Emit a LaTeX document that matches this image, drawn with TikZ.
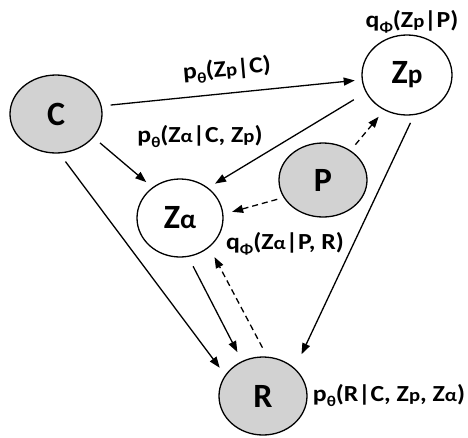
\documentclass[tikz,border=0pt]{standalone}
\usepackage{fontspec}
\setmainfont{Carlito}
\usetikzlibrary{shapes.geometric,arrows.meta}
\newcommand\sml[1]{\scalebox{0.8}{#1}}
\newcommand\sbs[1]{\raisebox{-0.45ex}{\scalebox{0.65}{#1}}}
\newcommand\wide[1]{\scalebox{1.12}[1]{#1}}
\begin{document}
\begin{tikzpicture}[x=1pt,y=-1pt,
  rv/.style={ellipse, draw, line width=1.3pt, inner sep=0, font=\bfseries\fontsize{34}{34}\selectfont},
  obs/.style={rv, fill=gray!35},
  lbl/.style={inner sep=0, font=\bfseries\fontsize{23}{23}\selectfont},
  arr/.style={-{Triangle[length=11pt,width=8pt]}, line width=1.3pt},
  darr/.style={arr, dash pattern=on 6pt off 4pt}]
\useasboundingbox (0,0) rectangle (468,437);
\node[obs, minimum width=92pt, minimum height=78pt] (C) at (56,114) {C};
\node[rv, minimum width=90pt, minimum height=80pt] (Zp) at (407,75) {Z\sml{p}};
\node[obs, minimum width=88pt, minimum height=74pt] (P) at (323,180) {P};
\node[rv, minimum width=86pt, minimum height=78pt] (Za) at (180,218) {Z\sml{α}};
\node[obs, minimum width=88pt, minimum height=78pt] (R) at (263,396) {R};

\draw[arr, shorten <=9pt, shorten >=7pt] (C.10.5) -- (Zp.186.6);
\draw[arr, shorten <=14pt, shorten >=8pt] (Zp.203.1) -- (Za.47.5);
\draw[arr, shorten <=8.5pt, shorten >=8pt] (C.-32.5) -- (Za.132.5);
\draw[darr, shorten <=7.5pt, shorten >=8.5pt] (P.47.6) -- (Zp.237.3);
\draw[darr, shorten <=6.5pt, shorten >=9pt] (P.204) -- (Za.5.5);
\draw[arr, shorten <=10pt, shorten >=9pt] (C.-85.3) -- (R.151);
\draw[arr, shorten <=10.5pt, shorten >=10pt] (Za.-78.5) -- (R.121.2);
\draw[darr, shorten <=10pt, shorten >=11pt] (R.84.2) -- (Za.-45);
\draw[arr, shorten <=8.5pt, shorten >=15.5pt] (Zp.-80.5) -- (R.41.5);

\node[lbl, rotate=5] (L1) at (227,70) {\wide{p\sbs{θ}(Z\sml{p}|C)}};
\node[lbl] (L2) at (200,137) {\wide{p\sbs{θ}(Z\sml{α}|C, Z\sml{p})}};
\node[lbl] (L3) at (412,22) {\wide{q\sbs{Φ}(Z\sml{p}|P)}};
\node[lbl] (L4) at (285,244) {\wide{q\sbs{Φ}(Z\sml{α}|P, R)}};
\node[lbl] (L5) at (389,396) {\wide{p\sbs{θ}(R|C, Z\sml{p}, Z\sml{α})}};
\end{tikzpicture}
\end{document}
